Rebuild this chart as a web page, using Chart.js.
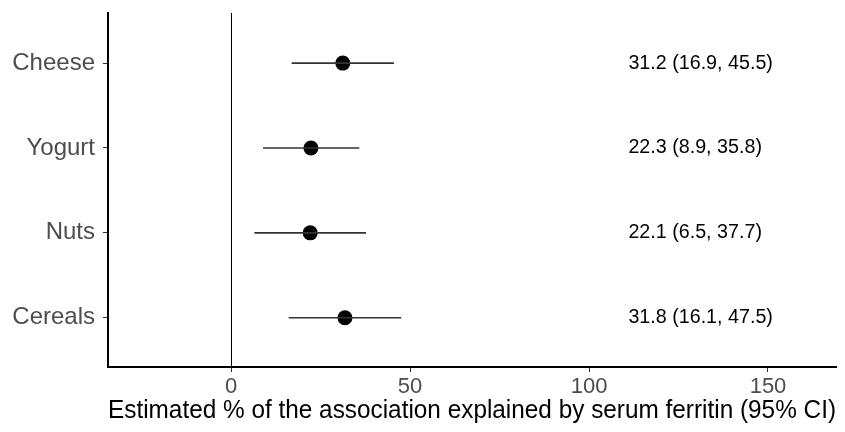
<!DOCTYPE html>
<html lang="en">
<head>
<meta charset="UTF-8" />
<title>Forest plot</title>
<script src="https://cdn.jsdelivr.net/npm/chart.js"></script>
<style>
  html, body { margin: 0; padding: 0; background: #fff; }
  canvas { display: block; }
</style>
</head>
<body>
<canvas id="forest" width="845" height="432"></canvas>
<script>
    // data, top row first
    const categories = ['Cheese', 'Yogurt', 'Nuts', 'Cereals'];
    const estimates = [31.2, 22.3, 22.1, 31.8];
    const lowerCI = [16.9, 8.9, 6.5, 16.1];
    const upperCI = [45.5, 35.8, 37.7, 47.5];
    const xTicks = [0, 50, 100, 150];
    const xMin = -34.4;
    const xMax = 169;
    const labelX = 111;   // where the estimate text starts
    const xTitle = 'Estimated % of the association explained by serum ferritin (95% CI)';

    const FONT = "'Liberation Sans', Arial, sans-serif";
    const n = categories.length;
    const rowPos = categories.map((c, i) => n - i);

    const datasets = [];
    categories.forEach((c, i) => {
        datasets.push({
            label: c + ' CI',
            data: [{ x: lowerCI[i], y: rowPos[i] }, { x: upperCI[i], y: rowPos[i] }],
            showLine: true,
            borderColor: '#333',
            borderWidth: 1.6,
            pointRadius: 0
        });
    });
    datasets.push({
        label: 'Estimate',
        data: estimates.map((v, i) => ({ x: v, y: rowPos[i] })),
        pointRadius: 7.5,
        pointBackgroundColor: '#000',
        pointBorderColor: '#000',
        pointBorderWidth: 0
    });

    // text column with the estimates
    const estimateText = {
        id: 'estimateText',
        afterDatasetsDraw(chart) {
            const ctx = chart.ctx;
            const xs = chart.scales.x, ys = chart.scales.y;
            ctx.save();
            ctx.font = '19.7px ' + FONT;
            ctx.fillStyle = '#000';
            ctx.textAlign = 'left';
            ctx.textBaseline = 'middle';
            categories.forEach((c, i) => {
                const txt = `${estimates[i].toFixed(1)} (${lowerCI[i].toFixed(1)}, ${upperCI[i].toFixed(1)})`;
                ctx.fillText(txt, xs.getPixelForValue(labelX), ys.getPixelForValue(rowPos[i]));
            });
            ctx.restore();
        }
    };

    new Chart(document.getElementById('forest'), {
        type: 'scatter',
        data: { datasets },
        plugins: [estimateText],
        options: {
            responsive: false,
            animation: false,
            layout: { padding: { top: 13, right: 9, left: 0, bottom: 0 } },
            plugins: {
                legend: { display: false },
                tooltip: { enabled: false }
            },
            scales: {
                x: {
                    type: 'linear',
                    min: xMin,
                    max: xMax,
                    afterBuildTicks: s => { s.ticks = xTicks.map(v => ({ value: v })); },
                    afterFit: s => { s.height = 65; s.paddingLeft = 0; s.paddingRight = 0; },
                    grid: {
                        color: c => (c.tick && c.tick.value === 0) ? '#000' : 'rgba(0,0,0,0)',
                        lineWidth: 1,
                        tickColor: '#333',
                        tickLength: 5
                    },
                    border: { display: true, color: '#000', width: 2 },
                    ticks: {
                        color: '#4d4d4d',
                        font: { family: FONT, size: 22 },
                        padding: 2,
                        maxRotation: 0
                    },
                    title: {
                        display: true,
                        text: xTitle,
                        color: '#000',
                        font: { family: FONT, size: 25.1 },
                        padding: { top: 0, bottom: 6 }
                    }
                },
                y: {
                    type: 'linear',
                    min: 0.42,
                    max: n + 0.59,
                    afterBuildTicks: s => { s.ticks = rowPos.map(v => ({ value: v })); },
                    afterFit: s => { s.width = 108; s.paddingTop = 0; s.paddingBottom = 0; },
                    grid: {
                        color: 'rgba(0,0,0,0)',
                        tickColor: '#333',
                        tickLength: 5
                    },
                    border: { display: true, color: '#000', width: 2 },
                    ticks: {
                        color: '#4d4d4d',
                        font: { family: FONT, size: 24 },
                        padding: 8,
                        callback: v => categories[n - v]
                    }
                }
            }
        }
    });
</script>
</body>
</html>
